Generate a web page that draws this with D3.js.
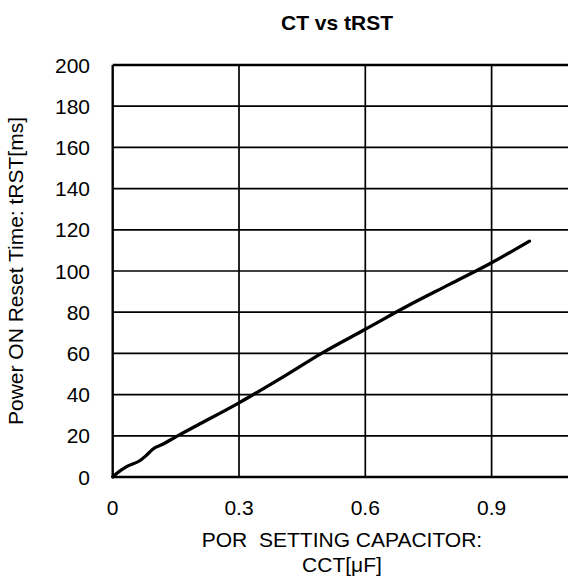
<!DOCTYPE html>
<html>
<head>
<meta charset="utf-8">
<script src="https://cdn.jsdelivr.net/npm/d3@7"></script>
<style>
  html, body { margin: 0; padding: 0; background: #fff; }
  svg { display: block; }
  text { font-family: "Liberation Sans", Arial, Helvetica, sans-serif; fill: #000; white-space: pre; }
</style>
</head>
<body>
<svg id="chart" width="568" height="580"></svg>
<script>
// Reset time vs. POR setting capacitor
const cct  = [0, 0.01, 0.033, 0.065, 0.08, 0.095, 0.12, 0.15, 0.2, 0.3, 0.4, 0.5, 0.6, 0.7, 0.8, 0.9, 0.99];
const trst = [0, 1.8, 5, 8, 10.5, 13.5, 16, 19.5, 25, 36, 48, 60.5, 71.7, 83, 93.5, 104, 114.5];

const xTicks = [0, 0.3, 0.6, 0.9];
const xGrid  = [0, 0.3, 0.6, 0.9, 1.2];
const yTicks = [0, 20, 40, 60, 80, 100, 120, 140, 160, 180, 200];

const chartTitle = "CT vs tRST";
const xTitle = ["POR  SETTING CAPACITOR:", "CCT[μF]"];
const yTitle = "Power ON Reset Time: tRST[ms]";

const svg = d3.select("#chart");
const plotLeft = 112.7, plotTop = 65, plotBottom = 477;

const x = d3.scaleLinear().domain([0, 1.2]).range([plotLeft, plotLeft + 4 * 126.3]);
const y = d3.scaleLinear().domain([0, 200]).range([plotBottom, plotTop]);

const plot = svg.append("g");

// grid
plot.append("g").selectAll("line").data(yTicks).join("line")
  .attr("x1", plotLeft).attr("x2", x(1.2))
  .attr("y1", d => y(d)).attr("y2", d => y(d))
  .attr("stroke", "#000").attr("stroke-width", d => (d === 0 || d === 200) ? 2.4 : 1.7);
plot.append("g").selectAll("line").data(xGrid).join("line")
  .attr("y1", plotTop).attr("y2", plotBottom)
  .attr("x1", d => x(d)).attr("x2", d => x(d))
  .attr("stroke", "#000").attr("stroke-width", d => d === 0 ? 2.4 : 1.7);

// tick labels
svg.append("g").selectAll("text").data(yTicks).join("text")
  .attr("x", 90).attr("y", d => y(d)).attr("dy", "0.36em")
  .attr("text-anchor", "end").attr("font-size", 21)
  .text(d => d);
svg.append("g").selectAll("text").data(xTicks).join("text")
  .attr("x", d => x(d)).attr("y", 515)
  .attr("text-anchor", "middle").attr("font-size", 21)
  .text(d => d === 0 ? "0" : d3.format(".1f")(d));

// curve
const pts = cct.map((c, i) => [c, trst[i]]);
plot.append("path").datum(pts)
  .attr("fill", "none").attr("stroke", "#000").attr("stroke-width", 3.3)
  .attr("stroke-linecap", "round").attr("stroke-linejoin", "round")
  .attr("d", d3.line().x(d => x(d[0])).y(d => y(d[1])).curve(d3.curveMonotoneX));

// titles
svg.append("text").attr("x", 337).attr("y", 30)
  .attr("text-anchor", "middle").attr("font-size", 21).attr("font-weight", "bold")
  .text(chartTitle);
svg.append("text").attr("text-anchor", "middle").attr("font-size", 21)
  .selectAll("tspan").data(xTitle).join("tspan")
  .attr("x", 342).attr("y", (d, i) => 547 + i * 25).text(d => d);
svg.append("text")
  .attr("transform", `translate(23,${(plotTop + plotBottom) / 2}) rotate(-90)`)
  .attr("text-anchor", "middle").attr("font-size", 21)
  .text(yTitle);
</script>
</body>
</html>
